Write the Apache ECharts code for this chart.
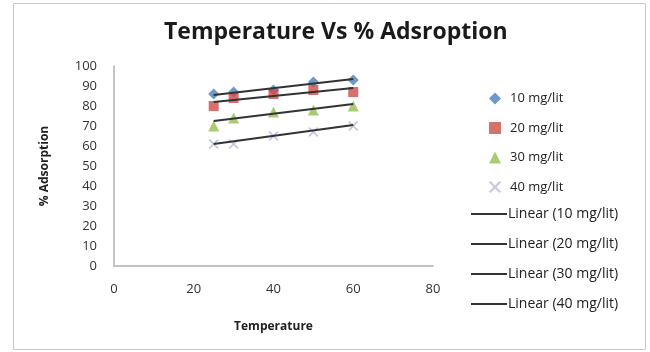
<!DOCTYPE html>
<html><head><meta charset="utf-8">
<script src="https://cdn.jsdelivr.net/npm/echarts@6/dist/echarts.min.js"></script>
<style>html,body{margin:0;padding:0;background:#fff}#c{width:650px;height:352px}</style>
</head><body><div id="c"></div>
<script>
const temperature = [25, 30, 40, 50, 60];
const s10 = [86, 87, 88, 92, 93];
const s20 = [80, 84, 86, 88, 87];
const s30 = [70, 74, 77, 78, 80];
const s40 = [61, 61, 65, 67, 70];
const trendX = [25, 60];
const t10 = [85.5, 93.5];
const t20 = [82, 89];
const t30 = [72.5, 81];
const t40 = [61, 70.5];
const names = ['10 mg/lit', '20 mg/lit', '30 mg/lit', '40 mg/lit'];
const xTicks = [0, 20, 40, 60, 80];
const yTicks = [0, 10, 20, 30, 40, 50, 60, 70, 80, 90, 100];

const pts = (xs, ys) => xs.map((x, i) => [x, ys[i]]);
const crossPath = 'path://M0,1.2L1.2,0L5,3.8L8.8,0L10,1.2L6.2,5L10,8.8L8.8,10L5,6.2L1.2,10L0,8.8L3.8,5Z';
const colors = ['#4a7ebb', '#d04a4a', '#93bf4f', '#b8b8dc'];
const symbols = ['diamond', 'rect', 'triangle', crossPath];
const sizes = [11, 10, 11, 10];
const vals = [s10, s20, s30, s40];
const trends = [t10, t20, t30, t40];

const series = [];
vals.forEach((v, i) => series.push({
  name: names[i], type: 'scatter', data: pts(temperature, v),
  symbol: symbols[i], symbolSize: sizes[i], itemStyle: {color: colors[i]}, z: 3
}));
trends.forEach((t, i) => series.push({
  name: 'Linear (' + names[i] + ')', type: 'line', data: pts(trendX, t),
  symbol: 'none', lineStyle: {color: '#333', width: 2}, itemStyle: {color: '#333'}, z: 4
}));

const font = "'Open Sans', sans-serif";
const chart = echarts.init(document.getElementById('c'));
chart.setOption({
  animation: false,
  backgroundColor: '#fff',
  graphic: [{type: 'rect', shape: {x: 13.5, y: 3.5, width: 632, height: 346},
    style: {fill: 'none', stroke: '#c8c8c8', lineWidth: 1}}],
  title: {text: 'Temperature Vs % Adsroption', left: 159, top: 16, itemGap: 0,
    textStyle: {fontFamily: font, fontSize: 23, fontWeight: 'bold', color: '#1a1a1a'}},
  grid: {left: 114, right: 217, top: 66, bottom: 86},
  xAxis: {type: 'value', min: xTicks[0], max: xTicks[xTicks.length - 1], interval: 20,
    name: 'Temperature', nameLocation: 'middle', nameGap: 55,
    nameTextStyle: {fontFamily: font, fontSize: 12, fontWeight: 'bold', color: '#222'},
    axisLine: {lineStyle: {color: '#b0b0b0', width: 1.5}}, axisTick: {show: false},
    splitLine: {show: false},
    axisLabel: {fontFamily: font, fontSize: 13, color: '#333', margin: 17}},
  yAxis: {type: 'value', min: yTicks[0], max: yTicks[yTicks.length - 1], interval: 10,
    name: '% Adsorption', nameLocation: 'middle', nameGap: 63, nameRotate: 90,
    nameTextStyle: {fontFamily: font, fontSize: 12, fontWeight: 'bold', color: '#222'},
    axisLine: {show: true, lineStyle: {color: '#b0b0b0', width: 1.5}}, axisTick: {show: false},
    splitLine: {show: false},
    axisLabel: {fontFamily: font, fontSize: 13, color: '#333', margin: 17}},
  legend: [
    {data: names, orient: 'vertical', left: 484, top: 87, itemGap: 16.5,
      itemWidth: 12, itemHeight: 12,
      textStyle: {fontFamily: font, fontSize: 13, color: '#222', padding: [0, 0, 0, 4]}},
    {data: names.map(n => 'Linear (' + n + ')'), orient: 'vertical', left: 466, top: 202, itemGap: 16,
      itemWidth: 36, itemHeight: 16, icon: 'path://M0,7L36,7L36,9L0,9Z',
      textStyle: {fontFamily: font, fontSize: 14, color: '#222', padding: [0, 0, 0, -4]}}
  ],
  series: series
});
</script></body></html>
